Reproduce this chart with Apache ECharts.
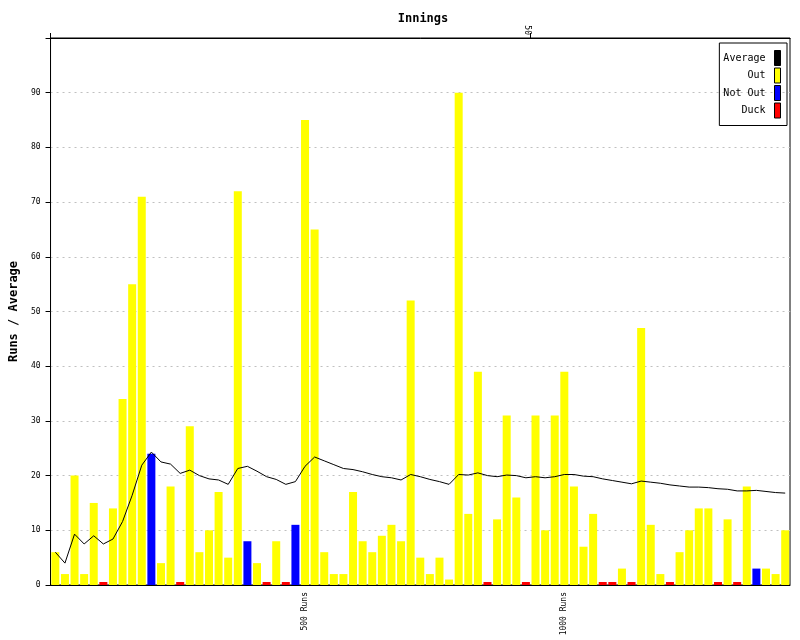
<!DOCTYPE html>
<html>
<head>
<meta charset="utf-8">
<script src="https://cdn.jsdelivr.net/npm/echarts@6/dist/echarts.min.js"></script>
<style>html,body{margin:0;padding:0;background:#fff}#c{width:800px;height:640px}</style>
</head>
<body>
<div id="c"></div>
<script>
// Runs scored per innings (1..77)
const runs = [6,2,20,2,15,0,14,34,55,71,24,4,18,0,29,6,10,17,5,72,8,4,0,8,0,11,85,65,6,2,2,17,8,6,9,11,8,52,5,2,5,1,90,13,39,0,12,31,16,0,31,10,31,39,18,7,13,0,0,3,0,47,11,2,0,6,10,14,14,0,12,0,18,3,3,2,10];
// Dismissal status: O = out, N = not out, D = duck
const status = ['O','O','O','O','O','D','O','O','O','O','N','O','O','D','O','O','O','O','O','O','N','O','D','O','D','N','O','O','O','O','O','O','O','O','O','O','O','O','O','O','O','O','O','O','O','D','O','O','O','D','O','O','O','O','O','O','O','D','D','O','D','O','O','O','D','O','O','O','O','D','O','D','O','N','O','O','O'];
// Running average after each innings
const average = [6,4,9.3,7.5,9,7.5,8.4,11.6,16.4,21.9,24.3,22.5,22.1,20.4,21,20,19.4,19.2,18.4,21.3,21.7,20.8,19.8,19.3,18.4,18.9,21.7,23.4,22.7,22,21.3,21.1,20.7,20.2,19.8,19.6,19.2,20.2,19.8,19.3,18.9,18.4,20.2,20.1,20.5,20,19.8,20.1,20,19.6,19.8,19.6,19.8,20.2,20.2,19.9,19.8,19.4,19.1,18.8,18.5,19,18.8,18.6,18.3,18.1,17.9,17.9,17.8,17.6,17.5,17.2,17.2,17.3,17.1,16.9,16.8];
// Bottom axis milestone labels (innings number -> label)
const milestoneInnings = [27, 54];
const milestoneLabels = ['500 Runs', '1000 Runs'];
// Top axis tick values (innings)
const topTicks = [0, 50];
const topTickLabels = [50];
const yTicks = [0,10,20,30,40,50,60,70,80,90];

const FONT = 'DejaVu Sans Mono';
const cats = runs.map((_, i) => String(i + 1));
const pick = s => runs.map((v, i) => status[i] === s ? v : null);

const chart = echarts.init(document.getElementById('c'), null, {renderer: 'canvas'});
chart.setOption({
  animation: false,
  backgroundColor: '#fff',
  title: {
    text: 'Innings', left: 418, top: 8, textAlign: 'center',
    textStyle: {fontFamily: FONT, fontSize: 12, fontWeight: 'bold', color: '#000'}
  },
  legend: {
    orient: 'vertical', right: 13, top: 43, align: 'right',
    itemWidth: 6, itemHeight: 15, itemGap: 1.5,
    padding: [7, 6, 7, 4],
    borderColor: '#000', borderWidth: 1,
    textStyle: {fontFamily: FONT, fontSize: 10, color: '#000', padding: [0, 4, 0, 0]},
    data: [
      {name: 'Average', icon: 'rect', itemStyle: {color: '#000', borderColor: '#000', borderWidth: 1}},
      {name: 'Out', icon: 'rect', itemStyle: {color: '#ffff00', borderColor: '#000', borderWidth: 1}},
      {name: 'Not Out', icon: 'rect', itemStyle: {color: '#0000ff', borderColor: '#000', borderWidth: 1}},
      {name: 'Duck', icon: 'rect', itemStyle: {color: '#ff0000', borderColor: '#000', borderWidth: 1}}
    ]
  },
  grid: {left: 48, right: 10, top: 38, bottom: 55, show: true, borderColor: '#000', borderWidth: 1, containLabel: false},
  xAxis: [
    {
      type: 'category', data: cats, position: 'bottom',
      axisLine: {lineStyle: {color: '#000', width: 1}},
      axisTick: {show: false},
      axisLabel: {
        rotate: 90, fontFamily: FONT, fontSize: 8, color: '#000', margin: 7,
        interval: (idx) => milestoneInnings.includes(idx + 1),
        formatter: (v) => { const k = milestoneInnings.indexOf(Number(v)); return k >= 0 ? milestoneLabels[k] : ''; }
      },
      splitLine: {show: false}
    },
    {
      type: 'value', position: 'top', min: 0, max: runs.length,
      axisLine: {show: true, lineStyle: {color: '#000', width: 1}},
      axisTick: {show: true, length: 5, customValues: topTicks, lineStyle: {color: '#000'}},
      axisLabel: {
        rotate: 90, fontFamily: FONT, fontSize: 8, color: '#000', margin: 3,
        verticalAlign: 'top',
        customValues: topTickLabels,
        formatter: (v) => String(v)
      },
      splitLine: {show: false}
    }
  ],
  yAxis: {
    type: 'value', min: 0, max: 100, interval: 10,
    name: 'Runs / Average', nameLocation: 'middle', nameGap: 30, nameRotate: 90,
    nameTextStyle: {fontFamily: FONT, fontSize: 12, fontWeight: 'bold', color: '#000'},
    axisLine: {show: true, lineStyle: {color: '#000', width: 1}},
    axisTick: {show: true, length: 5, lineStyle: {color: '#000'}},
    axisLabel: {
      fontFamily: FONT, fontSize: 8, color: '#000', margin: 10,
      formatter: (v) => yTicks.includes(v) ? String(v) : ''
    },
    splitLine: {show: true, lineStyle: {color: '#c0c0c0', type: [2, 4], width: 1}}
  },
  series: [
    {name: 'Out', type: 'bar', data: pick('O'), barWidth: 8, barGap: '-100%', itemStyle: {color: '#ffff00'}, z: 2},
    {name: 'Not Out', type: 'bar', data: pick('N'), barWidth: 8, barGap: '-100%', itemStyle: {color: '#0000ff'}, z: 2},
    {name: 'Duck', type: 'bar', data: pick('D'), barWidth: 8, barGap: '-100%', barMinHeight: 3, itemStyle: {color: '#ff0000'}, z: 2},
    {name: 'Average', type: 'line', data: average, showSymbol: false, symbol: 'none',
      lineStyle: {color: '#000', width: 1}, itemStyle: {color: '#000'}, z: 5}
  ]
});
</script>
</body>
</html>
